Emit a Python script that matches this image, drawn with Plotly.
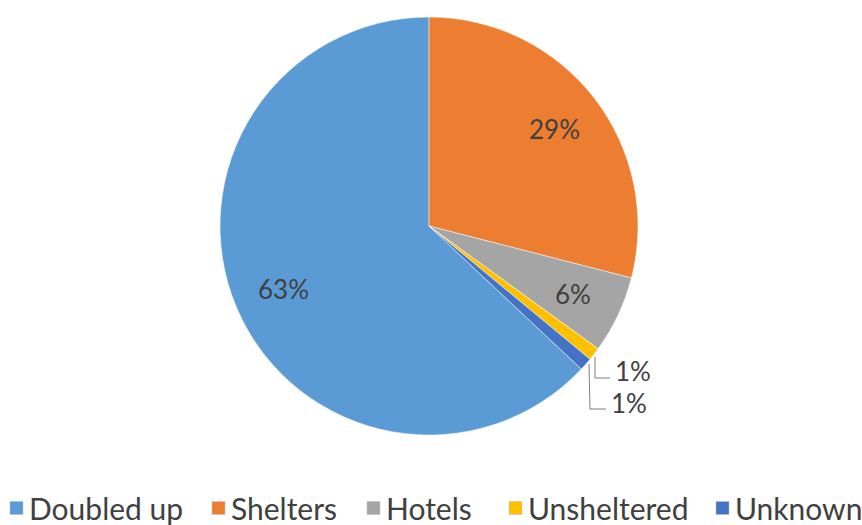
import math
import plotly.graph_objects as go

# Share of students by nighttime residence
categories = ["Doubled up", "Shelters", "Hotels", "Unsheltered", "Unknown"]
shares = [63, 29, 6, 1, 1]
colors = ["#5B9BD5", "#ED7D31", "#A5A5A5", "#FFC000", "#4472C4"]

W, H = 862, 525
cx, cy, r = 429, 226, 209
FONT = "Lato"
TXT = "#404040"

total = sum(shares)
# first slice placed so that the second one begins at 12 o'clock
start_angle = 360 - shares[0] / total * 360

fig = go.Figure(
    go.Pie(
        labels=categories,
        values=shares,
        sort=False,
        direction="clockwise",
        rotation=start_angle,
        marker=dict(colors=colors, line=dict(color="white", width=0.5)),
        textposition="none",
        domain=dict(
            x=[(cx - r) / W, (cx + r) / W],
            y=[1 - (cy + r) / H, 1 - (cy - r) / H],
        ),
        showlegend=False,
        hoverinfo="label+percent",
    )
)

def px(x, y):
    return x / W, 1 - y / H

# slice labels: inside for the wide slices, called out for the thin ones
acc = start_angle
mid_angles = []
for v in shares:
    span = v / total * 360
    mid_angles.append(acc + span / 2)
    acc += span

for i in range(3):
    a = math.radians(mid_angles[i])
    lx = cx + 0.76 * r * math.sin(a)
    ly = cy - 0.76 * r * math.cos(a)
    x, y = px(lx, ly)
    fig.add_annotation(x=x, y=y, xref="paper", yref="paper",
                       text=f"{shares[i]}%", showarrow=False,
                       xanchor="center", yanchor="middle",
                       font=dict(family=FONT, size=26, color=TXT))

callouts = [
    (shares[3], [(595, 357), (595, 378), (610, 378)], (613, 371)),
    (shares[4], [(589, 364), (590, 409), (606, 409)], (609, 403)),
]
for val, pts, (tx, ty) in callouts:
    path = "M " + " L ".join("{},{}".format(*px(x, y)) for x, y in pts)
    fig.add_shape(type="path", path=path, xref="paper", yref="paper",
                  line=dict(color="#7F7F7F", width=1))
    x, y = px(tx, ty)
    fig.add_annotation(x=x, y=y, xref="paper", yref="paper",
                       text=f"{val}%", showarrow=False, xanchor="left",
                       yanchor="middle",
                       font=dict(family=FONT, size=26, color=TXT))

# legend row along the bottom
legend_x = [10, 212, 367, 509, 716]
legend_y = 508
sq = 13
for name, col, lx in zip(categories, colors, legend_x):
    x0, y0 = px(lx, legend_y + sq / 2)
    x1, y1 = px(lx + sq, legend_y - sq / 2)
    fig.add_shape(type="rect", xref="paper", yref="paper",
                  x0=x0, y0=y0, x1=x1, y1=y1,
                  fillcolor=col, line=dict(color="#BFBFBF", width=0.5))
    tx, ty = px(lx + sq + 4, legend_y)
    fig.add_annotation(x=tx, y=ty, xref="paper", yref="paper", text=name,
                       showarrow=False, xanchor="left", yanchor="middle",
                       font=dict(family=FONT, size=30, color=TXT))

fig.update_layout(
    width=W, height=H,
    margin=dict(l=0, r=0, t=0, b=0),
    paper_bgcolor="white",
)

fig.write_html("out.html")
